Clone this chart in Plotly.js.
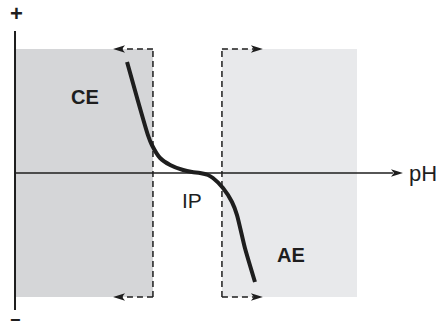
<!DOCTYPE html>
<html>
<head>
<meta charset="utf-8">
<script src="https://cdn.plot.ly/plotly-3.0.1.min.js"></script>
<style>html,body{margin:0;padding:0;background:#fff;}#chart{width:442px;height:331px;}</style>
</head>
<body>
<div id="chart"></div>
<script>
// Titration-like net charge curve vs pH (conceptual diagram)
const curvePH = [4.24, 4.62, 5.03, 5.18, 5.49, 5.87, 6.36, 6.70, 7.00, 7.30, 7.49, 7.87, 8.21, 8.40, 8.70, 9.08];
const curveCharge = [0.895, 0.605, 0.306, 0.226, 0.121, 0.065, 0.024, 0.008, 0, -0.016, -0.040, -0.121, -0.234, -0.339, -0.605, -0.879];
const cePH = [0, 5.22];      // cation-exchange window
const aePH = [7.83, 12.94];  // anion-exchange window
const regionCharge = [-1, 1];
const ipPH = 7;
const regionLabels = ["CE", "AE"];
const ipLabel = "IP";
const axisLabel = "pH";
const signLabels = ["+", "\u2212"];

const FONT = "Liberation Sans, Arial, sans-serif";
const dark = "#1e1e1e";
const dashStyle = "6px,4px";

function head(x, y, dir) {
  // pixel-sized arrowhead anchored at tip (dir = 1 right, -1 left)
  const L = 12 * dir, B = 9 * dir;
  return {
    type: "path", xref: "x", yref: "y", xsizemode: "pixel", ysizemode: "pixel",
    xanchor: x, yanchor: y,
    path: `M0,0L${-L},-3.8L${-B},0L${-L},3.8Z`,
    fillcolor: dark, line: {width: 0}
  };
}

const shapes = [
  {type: "rect", xref: "x", yref: "y", x0: cePH[0], x1: cePH[1], y0: regionCharge[0], y1: regionCharge[1],
   fillcolor: "#d5d6d8", line: {width: 0}, layer: "below"},
  {type: "rect", xref: "x", yref: "y", x0: aePH[0], x1: aePH[1], y0: regionCharge[0], y1: regionCharge[1],
   fillcolor: "#e8e9eb", line: {width: 0}, layer: "below"},
  // dashed boundaries
  {type: "line", x0: cePH[1], x1: cePH[1], y0: regionCharge[0], y1: regionCharge[1], line: {color: dark, width: 1.5, dash: dashStyle}},
  {type: "line", x0: aePH[0], x1: aePH[0], y0: regionCharge[0], y1: regionCharge[1], line: {color: dark, width: 1.5, dash: dashStyle}},
  {type: "line", x0: cePH[1], x1: 4.0, y0: regionCharge[1], y1: regionCharge[1], line: {color: dark, width: 1.5, dash: dashStyle}},
  {type: "line", x0: cePH[1], x1: 4.0, y0: regionCharge[0], y1: regionCharge[0], line: {color: dark, width: 1.5, dash: dashStyle}},
  {type: "line", x0: aePH[0], x1: 9.1, y0: regionCharge[1], y1: regionCharge[1], line: {color: dark, width: 1.5, dash: dashStyle}},
  {type: "line", x0: aePH[0], x1: 9.1, y0: regionCharge[0], y1: regionCharge[0], line: {color: dark, width: 1.5, dash: dashStyle}},
  head(3.71, regionCharge[1], -1),
  head(3.71, regionCharge[0], -1),
  head(9.38, regionCharge[1], 1),
  head(9.38, regionCharge[0], 1),
  // axes
  {type: "line", x0: 0, x1: 0, y0: -1.105, y1: 1.145, line: {color: dark, width: 2}},
  {type: "line", x0: 0, x1: 14.3, y0: 0, y1: 0, line: {color: dark, width: 1.6}},
  head(14.68, 0, 1)
];

const annotations = [
  {x: 2.63, y: 0.613, xref: "x", yref: "y", text: "<b>" + regionLabels[0] + "</b>", showarrow: false, font: {family: FONT, size: 20, color: dark}},
  {x: 10.44, y: -0.665, xref: "x", yref: "y", text: "<b>" + regionLabels[1] + "</b>", showarrow: false, font: {family: FONT, size: 20, color: dark}},
  {x: 6.70, y: -0.22, xref: "x", yref: "y", text: ipLabel, showarrow: false, font: {family: FONT, size: 21, color: dark}},
  {x: 15.45, y: 0.0, xref: "x", yref: "y", text: axisLabel, showarrow: false, font: {family: FONT, size: 22, color: dark}},
  {x: 0.04, y: 1.29, xref: "x", yref: "y", text: "<b>" + signLabels[0] + "</b>", showarrow: false, font: {family: FONT, size: 22, color: dark}},
  {x: 0.0, y: -1.272, xref: "x", yref: "y", yanchor: "bottom", borderpad: 0, text: "<b>" + signLabels[1] + "</b>", showarrow: false, font: {family: FONT, size: 18, color: dark}}
];

const trace = {
  x: curvePH, y: curveCharge, type: "scatter", mode: "lines",
  line: {color: dark, width: 4, shape: "spline", smoothing: 0.6},
  hoverinfo: "skip"
};

const layout = {
  width: 442, height: 331,
  margin: {l: 0, r: 0, t: 0, b: 0, pad: 0},
  paper_bgcolor: "#ffffff", plot_bgcolor: "#ffffff",
  showlegend: false,
  xaxis: {range: [-0.568, 16.157], visible: false, fixedrange: true},
  yaxis: {range: [-1.274, 1.395], visible: false, fixedrange: true},
  shapes: shapes,
  annotations: annotations
};

Plotly.newPlot("chart", [trace], layout, {displayModeBar: false, staticPlot: true});
</script>
</body>
</html>
